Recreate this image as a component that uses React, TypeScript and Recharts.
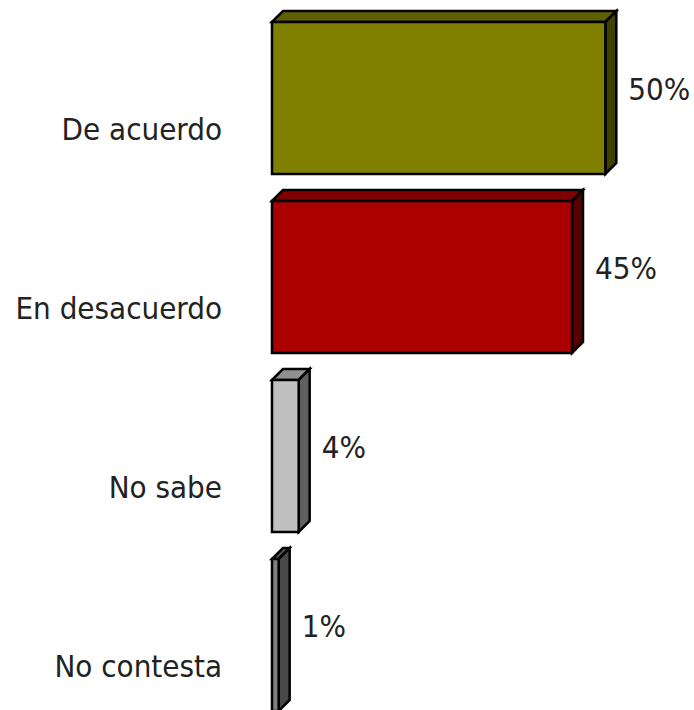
import { Bar, BarChart, LabelList, XAxis, YAxis } from 'recharts';

const categories = ['De acuerdo', 'En desacuerdo', 'No sabe', 'No contesta'];
const percents = [50, 45, 4, 1];
const frontColors = ['#808000', '#aa0000', '#c0c0c0', '#808080'];
const topColors = ['#606000', '#800000', '#909090', '#555555'];
const sideColors = ['#404000', '#580000', '#606060', '#484848'];

const data = categories.map((name, i) => ({ name, value: percents[i] }));

const DEPTH = 11;
const FONT = '"DejaVu Sans Condensed", "DejaVu Sans", sans-serif';

function Bar3D(props: any) {
  const { x, y, width, height, index } = props;
  const d = DEPTH;
  const top = `M${x},${y} L${x + d},${y - d} L${x + width + d},${y - d} L${x + width},${y} Z`;
  const side = `M${x + width},${y} L${x + width + d},${y - d} L${x + width + d},${y + height - d} L${x + width},${y + height} Z`;
  return (
    <g stroke="#000" strokeWidth={2.5} strokeLinejoin="miter">
      <path d={top} fill={topColors[index]} />
      <path d={side} fill={sideColors[index]} />
      <rect x={x} y={y} width={width} height={height} fill={frontColors[index]} />
    </g>
  );
}

function CategoryTick(props: any) {
  const { x, y, payload } = props;
  return (
    <text
      x={x}
      y={y + 42}
      textAnchor="end"
      fontFamily={FONT}
      fontSize={31}
      style={{ fontStretch: 'condensed' }}
      fill="#222"
    >
      {payload.value}
    </text>
  );
}

function ValueLabel(props: any) {
  const { x, y, width, height, value } = props;
  return (
    <text
      x={x + width + 23}
      y={y + height / 2 + 2}
      fontFamily={FONT}
      fontSize={31}
      style={{ fontStretch: 'condensed' }}
      fill="#222"
    >
      {`${value}%`}
    </text>
  );
}

export default function App() {
  return (
    <div style={{ width: 694, height: 710, overflow: 'hidden', background: '#fff' }}>
      <style>{'body{margin:0}'}</style>
      <BarChart
        width={694}
        height={724}
        data={data}
        layout="vertical"
        margin={{ top: 8, right: 22, bottom: 0, left: 0 }}
        barSize={152}
      >
        <XAxis type="number" domain={[0, 60]} hide />
        <YAxis
          type="category"
          dataKey="name"
          width={272}
          axisLine={false}
          tickLine={false}
          tickSize={0}
          tickMargin={50}
          tick={<CategoryTick />}
        />
        <Bar dataKey="value" shape={<Bar3D />} isAnimationActive={false}>
          <LabelList dataKey="value" content={<ValueLabel />} />
        </Bar>
      </BarChart>
    </div>
  );
}
